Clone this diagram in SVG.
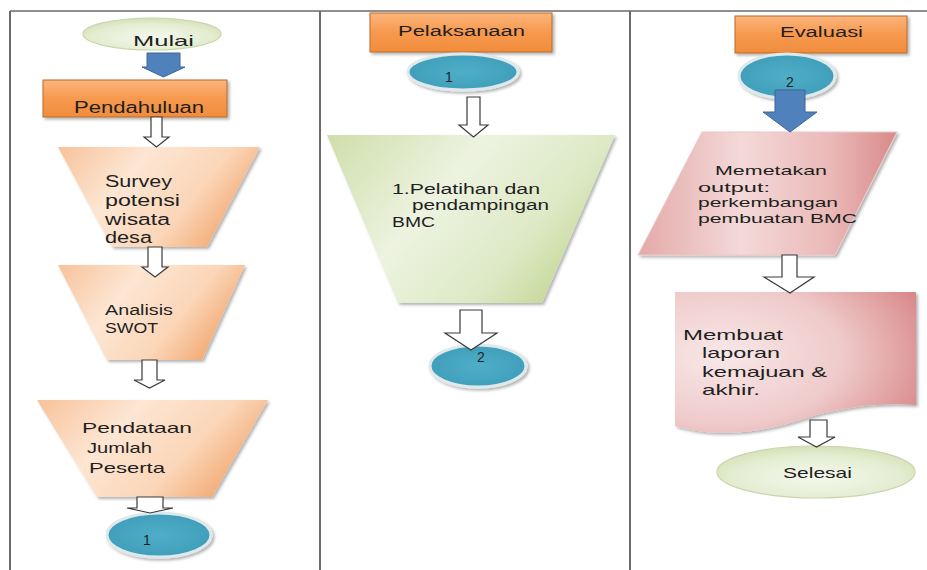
<svg xmlns="http://www.w3.org/2000/svg" width="927" height="570" viewBox="0 0 927 570">
<defs>
<style>
.frame{stroke:#6b6b6b;stroke-width:2;fill:none}
.t{font-family:"Liberation Sans",Arial,sans-serif;fill:#1f1f1f}
.hollow{fill:#fff;stroke:#3a3a3a;stroke-width:1.2;stroke-linejoin:miter}
.blue{fill:#4F81BD;stroke:#3B6496;stroke-width:1}
.hdr{fill:url(#gOr);stroke:#b8682c;stroke-width:1}
.circ{fill:url(#gBlue);stroke:#dfe9ec;stroke-width:3}
.term{fill:url(#gGreenE);stroke:#c9d6ad;stroke-width:1.2}
</style>
<filter id="sh" x="-10%" y="-10%" width="125%" height="130%">
<feDropShadow dx="2" dy="2" stdDeviation="1.8" flood-color="#000" flood-opacity="0.3"/>
</filter>
<linearGradient id="gOr" x1="0" y1="0" x2="0" y2="1">
<stop offset="0" stop-color="#fbb57c"/><stop offset="0.5" stop-color="#f7994e"/><stop offset="1" stop-color="#f08d3c"/>
</linearGradient>
<linearGradient id="gPeach" x1="0" y1="0" x2="1" y2="0.4">
<stop offset="0" stop-color="#f7c29a"/><stop offset="0.4" stop-color="#fde6d3"/><stop offset="0.75" stop-color="#fbd6b8"/><stop offset="1" stop-color="#f3ae7a"/>
</linearGradient>
<linearGradient id="gGreen" x1="0" y1="0" x2="1" y2="0.5">
<stop offset="0" stop-color="#cfdeaa"/><stop offset="0.45" stop-color="#edf3e0"/><stop offset="0.8" stop-color="#dde9c5"/><stop offset="1" stop-color="#c8da9e"/>
</linearGradient>
<linearGradient id="gPink" x1="0" y1="0" x2="1" y2="0">
<stop offset="0" stop-color="#e3aaa9"/><stop offset="0.4" stop-color="#f3d9d8"/><stop offset="0.75" stop-color="#eab8b7"/><stop offset="1" stop-color="#d88a89"/>
</linearGradient>
<radialGradient id="gDoc" cx="0.2" cy="0.45" r="0.9">
<stop offset="0" stop-color="#f8e8e8"/><stop offset="0.55" stop-color="#efcaca"/><stop offset="1" stop-color="#d9898a"/>
</radialGradient>
<radialGradient id="gGreenE" cx="0.5" cy="0.6" r="0.6">
<stop offset="0" stop-color="#f4f8ec"/><stop offset="0.7" stop-color="#e4edd2"/><stop offset="1" stop-color="#d3e1b5"/>
</radialGradient>
<radialGradient id="gBlue" cx="0.5" cy="0.5" r="0.6">
<stop offset="0" stop-color="#4eaec8"/><stop offset="1" stop-color="#3e9cb8"/>
</radialGradient>
</defs>
<rect x="0" y="0" width="927" height="570" fill="#fff"/>

<g id="frame">
<line class="frame" x1="10" y1="11" x2="927" y2="11" style="stroke-width:1.5"/>
<line class="frame" x1="10" y1="11" x2="10" y2="570"/>
<line class="frame" x1="320" y1="11" x2="320" y2="570"/>
<line class="frame" x1="630" y1="11" x2="630" y2="570"/>
</g>

<g id="n-mulai">
<ellipse class="term" cx="152" cy="34" rx="69" ry="16"/>
<text class="t" x="133" y="46" font-size="15" textLength="61" lengthAdjust="spacingAndGlyphs">Mulai</text>
</g>

<g id="n-pendahuluan">
<rect class="hdr" x="43" y="80" width="184" height="37" filter="url(#sh)"/>
<text class="t" x="74" y="113" font-size="16" textLength="130" lengthAdjust="spacingAndGlyphs">Pendahuluan</text>
</g>

<g id="n-survey">
<polygon points="58,147 260,147 207,247 112,247" fill="url(#gPeach)" filter="url(#sh)"/>
<text class="t" x="105" y="187" font-size="16" textLength="67" lengthAdjust="spacingAndGlyphs">Survey</text>
<text class="t" x="105" y="206" font-size="16" textLength="75" lengthAdjust="spacingAndGlyphs">potensi</text>
<text class="t" x="105" y="225" font-size="16" textLength="65" lengthAdjust="spacingAndGlyphs">wisata</text>
<text class="t" x="105" y="243" font-size="16" textLength="47" lengthAdjust="spacingAndGlyphs">desa</text>
</g>

<g id="n-swot">
<polygon points="58,265 245,265 202,360 107,360" fill="url(#gPeach)" filter="url(#sh)"/>
<text class="t" x="105" y="315" font-size="14" textLength="68" lengthAdjust="spacingAndGlyphs">Analisis</text>
<text class="t" x="105" y="333" font-size="14" textLength="53" lengthAdjust="spacingAndGlyphs">SWOT</text>
</g>

<g id="n-pendataan">
<polygon points="37,400 268,400 212,497 97,497" fill="url(#gPeach)" filter="url(#sh)"/>
<text class="t" x="82" y="433" font-size="15" textLength="110" lengthAdjust="spacingAndGlyphs">Pendataan</text>
<text class="t" x="87" y="453" font-size="15" textLength="65" lengthAdjust="spacingAndGlyphs">Jumlah</text>
<text class="t" x="89" y="473" font-size="15" textLength="76" lengthAdjust="spacingAndGlyphs">Peserta</text>
</g>

<g id="n-c1a">
<ellipse class="circ" cx="159" cy="535" rx="52" ry="22" filter="url(#sh)"/>
<text class="t" x="143" y="545" font-size="14">1</text>
</g>

<g id="n-pelaksanaan">
<rect class="hdr" x="370" y="13" width="182" height="39" filter="url(#sh)"/>
<text class="t" x="398" y="36" font-size="14" textLength="127" lengthAdjust="spacingAndGlyphs">Pelaksanaan</text>
</g>

<g id="n-c1b">
<ellipse class="circ" cx="463" cy="72" rx="55" ry="18" filter="url(#sh)"/>
<text class="t" x="445" y="82" font-size="14">1</text>
</g>

<g id="n-pelatihan">
<polygon points="327,135 615,135 542,303 398,303" fill="url(#gGreen)" filter="url(#sh)"/>
<text class="t" x="392" y="194" font-size="14" textLength="148" lengthAdjust="spacingAndGlyphs">1.Pelatihan dan</text>
<text class="t" x="412" y="210" font-size="14" textLength="137" lengthAdjust="spacingAndGlyphs">pendampingan</text>
<text class="t" x="392" y="227" font-size="14" textLength="43" lengthAdjust="spacingAndGlyphs">BMC</text>
</g>

<g id="n-c2a">
<ellipse class="circ" cx="478" cy="366" rx="48" ry="21" filter="url(#sh)"/>
<text class="t" x="477" y="362" font-size="14">2</text>
</g>

<g id="n-evaluasi">
<rect class="hdr" x="735" y="16" width="172" height="37" filter="url(#sh)"/>
<text class="t" x="780" y="37" font-size="14" textLength="83" lengthAdjust="spacingAndGlyphs">Evaluasi</text>
</g>

<g id="n-c2b">
<ellipse class="circ" cx="787" cy="76" rx="48" ry="22" filter="url(#sh)"/>
<text class="t" x="786" y="87" font-size="14">2</text>
</g>

<g id="n-memetakan">
<polygon points="702,132 897,132 835,255 638,255" fill="url(#gPink)" stroke="#e9c9c8" stroke-width="1" filter="url(#sh)"/>
<text class="t" x="715" y="175" font-size="13" textLength="112" lengthAdjust="spacingAndGlyphs">Memetakan</text>
<text class="t" x="698" y="192" font-size="13" textLength="72" lengthAdjust="spacingAndGlyphs">output:</text>
<text class="t" x="698" y="207" font-size="13" textLength="140" lengthAdjust="spacingAndGlyphs">perkembangan</text>
<text class="t" x="698" y="223" font-size="13" textLength="159" lengthAdjust="spacingAndGlyphs">pembuatan BMC</text>
</g>

<g id="n-membuat">
<path d="M675,292 H916 V405 C880,402 835,408 800,420 C760,433 715,438 675,426 Z" fill="url(#gDoc)" filter="url(#sh)"/>
<text class="t" x="683" y="340" font-size="15" textLength="100" lengthAdjust="spacingAndGlyphs">Membuat</text>
<text class="t" x="702" y="358" font-size="15" textLength="78" lengthAdjust="spacingAndGlyphs">laporan</text>
<text class="t" x="702" y="377" font-size="15" textLength="125" lengthAdjust="spacingAndGlyphs">kemajuan &amp;</text>
<text class="t" x="702" y="395" font-size="15" textLength="58" lengthAdjust="spacingAndGlyphs">akhir.</text>
</g>

<g id="n-selesai">
<ellipse class="term" cx="816" cy="472" rx="99" ry="26"/>
<text class="t" x="783" y="478" font-size="15" textLength="69" lengthAdjust="spacingAndGlyphs">Selesai</text>
</g>

<g id="connectors">
<path class="blue" d="M147,53 H180 V67 H185 L163.5,77 L142,67 H147 Z"/>
<path class="hollow" d="M151,117 H162 V137 H169 L156.5,147 L144,137 H151 Z"/>
<path class="hollow" d="M148,247 H162 V267 H168 L155,277 L142,267 H148 Z"/>
<path class="hollow" d="M142,360 H157 V380 H165 L149.5,388 L134,380 H142 Z"/>
<path class="hollow" d="M137,497 H163 V508 H173 L150,513 L127,508 H137 Z"/>
<path class="hollow" d="M467,97 H480 V125 H488 L473.5,137 L459,125 H467 Z"/>
<path class="hollow" d="M460,310 H482 V333 H497 L471,350 L445,333 H460 Z"/>
<path class="blue" d="M775,90 H805 V112 H817 L790,132 L763,112 H775 Z"/>
<path class="hollow" d="M782,255 H797 V277 H814 L790,293 L764,277 H782 Z"/>
<path class="hollow" d="M810,420 H827 V437 H835 L816.5,447 L798,437 H810 Z"/>
</g>
</svg>
